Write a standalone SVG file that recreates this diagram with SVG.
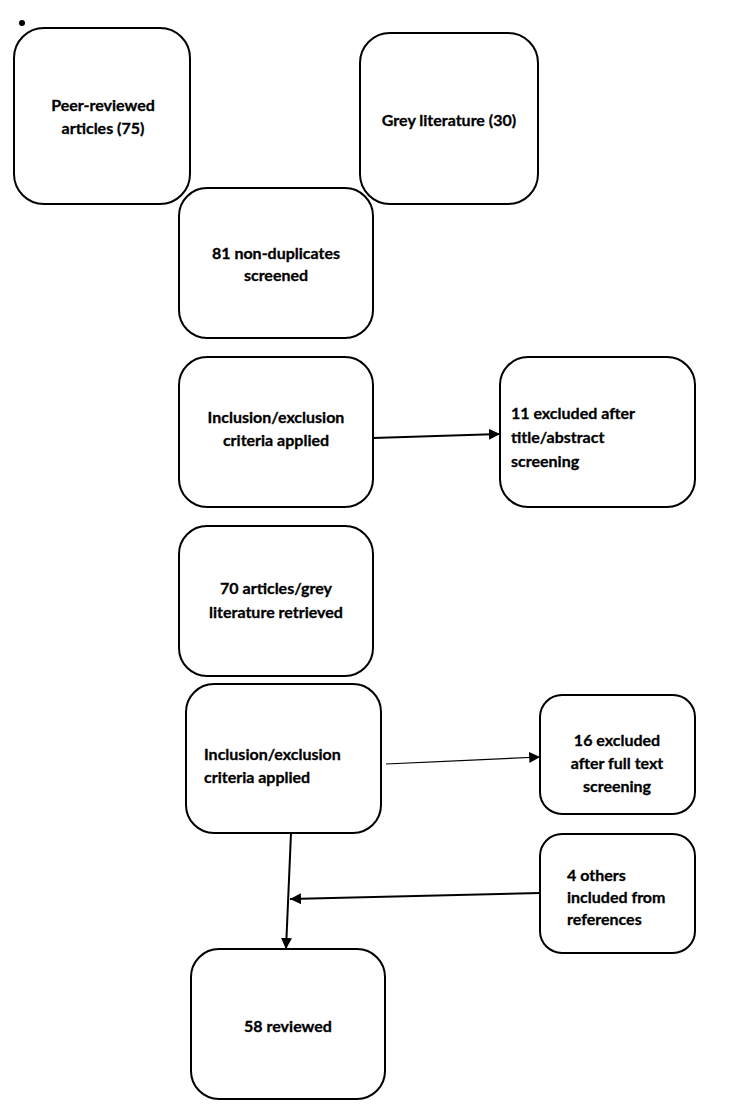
<svg xmlns="http://www.w3.org/2000/svg" width="750" height="1119" viewBox="0 0 750 1119">
<style>
.box{fill:#fff;stroke:#000;stroke-width:2}
.t{font-family:Lato,"Open Sans","Liberation Sans",sans-serif;font-weight:bold;font-size:16px;fill:#000;stroke:#000;stroke-width:0.3}
.c{text-anchor:middle}
.ln{stroke:#000;stroke-width:2;fill:none}
.thin{stroke:#000;stroke-width:1.2;fill:none}
</style>
<defs>
<marker id="ah" viewBox="0 0 10 10" refX="10" refY="5" markerWidth="5.5" markerHeight="5.5" orient="auto" markerUnits="strokeWidth">
<path d="M0,0 L10,5 L0,10 z" fill="#000"/>
</marker>
<marker id="ah2" viewBox="0 0 10 10" refX="10" refY="5" markerWidth="9" markerHeight="9" orient="auto" markerUnits="strokeWidth">
<path d="M0,0 L10,5 L0,10 z" fill="#000"/>
</marker>
</defs>
<circle cx="22" cy="23" r="3" fill="#000"/>
<g id="n1"><rect class="box" x="14" y="28" width="176" height="176" rx="30"/>
<text class="t c" x="103" y="111">Peer-reviewed</text><text class="t c" x="103" y="134">articles (75)</text></g>
<g id="n2"><rect class="box" x="360" y="33" width="178" height="171" rx="30"/>
<text class="t c" x="449" y="126">Grey literature (30)</text></g>
<g id="n3"><rect class="box" x="179" y="188" width="194" height="150" rx="28"/>
<text class="t c" x="276" y="259">81 non-duplicates</text><text class="t c" x="276" y="281">screened</text></g>
<g id="n4"><rect class="box" x="179" y="357" width="194" height="150" rx="28"/>
<text class="t c" x="276" y="423">Inclusion/exclusion</text><text class="t c" x="276" y="446">criteria applied</text></g>
<g id="n5"><rect class="box" x="500" y="357" width="195" height="150" rx="28"/>
<text class="t" x="511" y="419">11 excluded after</text><text class="t" x="511" y="443">title/abstract</text><text class="t" x="511" y="467">screening</text></g>
<g id="n6"><rect class="box" x="179" y="526" width="194" height="150" rx="28"/>
<text class="t c" x="276" y="594">70 articles/grey</text><text class="t c" x="276" y="618">literature retrieved</text></g>
<g id="n7"><rect class="box" x="186" y="684" width="195" height="149" rx="28"/>
<text class="t" x="204" y="760">Inclusion/exclusion</text><text class="t" x="204" y="783">criteria applied</text></g>
<g id="n8"><rect class="box" x="540" y="695" width="155" height="119" rx="22"/>
<text class="t c" x="617" y="746">16 excluded</text><text class="t c" x="617" y="769">after full text</text><text class="t c" x="617" y="792">screening</text></g>
<g id="n9"><rect class="box" x="540" y="834" width="155" height="119" rx="22"/>
<text class="t" x="567" y="881">4 others</text><text class="t" x="567" y="903">included from</text><text class="t" x="567" y="925">references</text></g>
<g id="n10"><rect class="box" x="191" y="949" width="194" height="150" rx="28"/>
<text class="t c" x="288" y="1032">58 reviewed</text></g>
<g id="connectors">
<line class="ln" x1="373" y1="438" x2="500" y2="434" marker-end="url(#ah)"/>
<line class="thin" x1="386" y1="764" x2="540" y2="757" marker-end="url(#ah2)"/>
<line class="ln" x1="540" y1="893" x2="290" y2="899" marker-end="url(#ah)"/>
<line class="ln" x1="291" y1="833" x2="286" y2="949" marker-end="url(#ah)"/>
</g>
</svg>
